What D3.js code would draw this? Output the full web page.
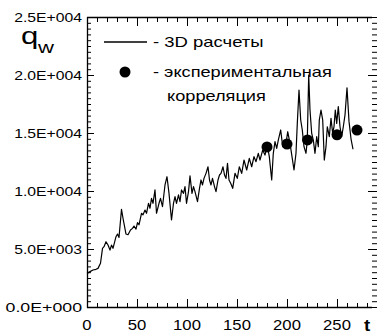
<!DOCTYPE html>
<html><head><meta charset="utf-8">
<script src="https://cdn.jsdelivr.net/npm/d3@7"></script>
<style>html,body{margin:0;padding:0;background:#fff;}svg{display:block;}</style>
</head><body>
<script>
// ---- data ----
const simT = [0,3,6,9,11,13.5,15.5,17,19,21,23,24.5,26,29,30.5,32,34.5,36,39,41,43.5,45.5,47,49,50.5,52,54.5,56,58,59.5,61.5,63,64.5,66,68,69.5,72,73.5,75.5,78,80,82,84.5,86.5,88,89.5,91.5,93,94.5,96.5,98,99.5,101.5,103,105,106.5,108,110.5,112.5,114,115.5,117,119,121,122.5,124,125.5,127.5,129,131,132.5,134,136,137.5,139,140.5,142,143.7,145.7,148,150.3,152.3,154.7,157,159.7,162.3,164.7,167,169,171.3,173,175.7,178,180.3,182.3,184.7,186.3,188,189.7,191.3,193.7,195.7,197,199,200.7,203,205,207,209,210.3,212,213.7,215.3,217,219,220.3,221.7,223,224.7,226.3,228,229.7,231.3,232.3,234,235.7,237.3,239,240.3,242.3,244,245.7,247,248.3,249.7,251.3,253,254.7,256.3,258,260,262,264,266];
const simQ = [2900,3050,3190,3250,3330,3770,5060,5200,5630,5340,4910,5340,5060,6060,6290,6000,8420,7650,6290,6230,6640,6780,6980,6720,7270,7090,8080,7940,8360,8080,8940,8510,9370,8940,10090,8080,8940,9370,8660,10520,11230,9800,7500,8940,9510,8940,9660,9080,10090,9800,10380,8940,9950,11300,9800,10380,9950,9080,10230,10950,10520,11090,11520,12090,10950,10520,11090,10380,9950,10950,11380,11520,12090,11380,11090,12380,10950,10660,10230,11520,11090,12090,11520,12670,11810,12810,12090,12960,12530,13250,12670,13530,13100,13960,12960,10950,13250,14250,13680,14390,15260,13820,14390,14110,15110,14110,12960,11810,13250,15830,18700,16120,15260,13820,13250,14390,20000,16980,14960,14390,13250,14680,13820,16120,16980,16120,12670,13820,15540,14680,16260,14960,15540,16980,15830,17270,15540,14680,15540,16550,18900,16000,14500,13600];
const expT = [180,200,220.5,250,270];
const expQ = [13800,14050,14400,14850,15250];
const xMajorTicks = [0,50,100,150,200,250];
const yMajorTicks = [0,5000,10000,15000,20000,25000];
const legendLabels = ["- 3D расчеты","- экспериментальная","корреляция"];

// ---- layout ----
const W = 377, H = 334;
const L = 87, R = 377, T = 17, B = 307;
const svg = d3.select("body").append("svg").attr("width",W).attr("height",H);
const x = d3.scaleLinear().domain([0,290]).range([L,R]);
const y = d3.scaleLinear().domain([0,25000]).range([B,T]);
const FONT = "'Liberation Sans', Arial, sans-serif";

function stext(px, py, str, size, sx, anchor, weight){
  const g = svg.append("g").attr("transform",`translate(${px},${py}) scale(${sx},1)`);
  return g.append("text").attr("x",0).attr("y",0).text(str)
    .attr("font-family",FONT).attr("font-size",size).attr("fill","#000")
    .attr("text-anchor",anchor||"start").attr("font-weight",weight||"normal");
}

const xMinor = d3.range(0,281,10);
const yMinor = d3.range(0,25001,500);

function axisG(gen, tr){
  const g = svg.append("g").attr("transform",tr).call(gen);
  g.select(".domain").remove();
  g.selectAll("line").attr("stroke","#000").attr("stroke-width",1);
  g.selectAll("text").remove();
  return g;
}
// bottom
axisG(d3.axisBottom(x).tickValues(xMinor).tickSize(-4), `translate(0,${B})`);
axisG(d3.axisBottom(x).tickValues(xMajorTicks).tickSize(-8), `translate(0,${B})`);
// top
axisG(d3.axisTop(x).tickValues(xMinor).tickSize(-5), `translate(0,${T})`);
axisG(d3.axisTop(x).tickValues(xMajorTicks).tickSize(-9), `translate(0,${T})`);
// left
axisG(d3.axisLeft(y).tickValues(yMinor).tickSize(-4), `translate(${L},0)`);
axisG(d3.axisLeft(y).tickValues(yMajorTicks).tickSize(-7), `translate(${L},0)`);
// right (ticks only)
axisG(d3.axisRight(y).tickValues(yMinor).tickSize(-5), `translate(${R},0)`);
axisG(d3.axisRight(y).tickValues(yMajorTicks).tickSize(-9), `translate(${R},0)`);

// frame lines
svg.append("line").attr("x1",L).attr("x2",372).attr("y1",B+0.5).attr("y2",B+0.5).attr("stroke","#000").attr("stroke-width",1.3);
svg.append("line").attr("x1",L).attr("x2",372).attr("y1",T+0.5).attr("y2",T+0.5).attr("stroke","#000").attr("stroke-width",1.3);
svg.append("line").attr("x1",L+0.5).attr("x2",L+0.5).attr("y1",T).attr("y2",B+1).attr("stroke","#000").attr("stroke-width",1.3);

// tick labels
function fmtE(v){
  if (v===0) return "0.0E+000";
  const e = Math.floor(Math.log10(v));
  const m = v/Math.pow(10,e);
  return m.toFixed(1)+"E+"+String(e).padStart(3,"0");
}
yMajorTicks.forEach(v=>{
  stext(82, y(v)+4.5, fmtE(v), 12.5, v===0?1.42:1.26, "end");
});
xMajorTicks.forEach(v=>{
  stext(x(v), 330, String(v), 14.5, 1.15, "middle");
});
// axis titles
stext(367, 331, "t", 17, 1.1, "middle", "bold");
stext(21, 44, "q", 24, 1.3, "start");
stext(38, 53, "w", 17, 1.3, "start");

// data line
const line = d3.line().x((d,i)=>x(simT[i])).y((d,i)=>y(simQ[i]));
svg.append("path").datum(simQ).attr("d",line).attr("fill","none")
  .attr("stroke","#000").attr("stroke-width",1.2).attr("stroke-linejoin","round");

// experimental dots
svg.selectAll("circle.exp").data(expT).enter().append("circle").attr("class","exp")
  .attr("cx",(d)=>x(d)).attr("cy",(d,i)=>y(expQ[i])).attr("r",5.5).attr("fill","#000");

// legend
svg.append("line").attr("x1",104).attr("x2",147).attr("y1",42).attr("y2",42).attr("stroke","#000").attr("stroke-width",1.3);
svg.append("circle").attr("cx",125).attr("cy",72).attr("r",5.5).attr("fill","#000");
stext(153, 47, legendLabels[0], 14, 1.32);
stext(153, 77, legendLabels[1], 14, 1.3);
stext(167, 101, legendLabels[2], 14, 1.3);
</script>
</body></html>
